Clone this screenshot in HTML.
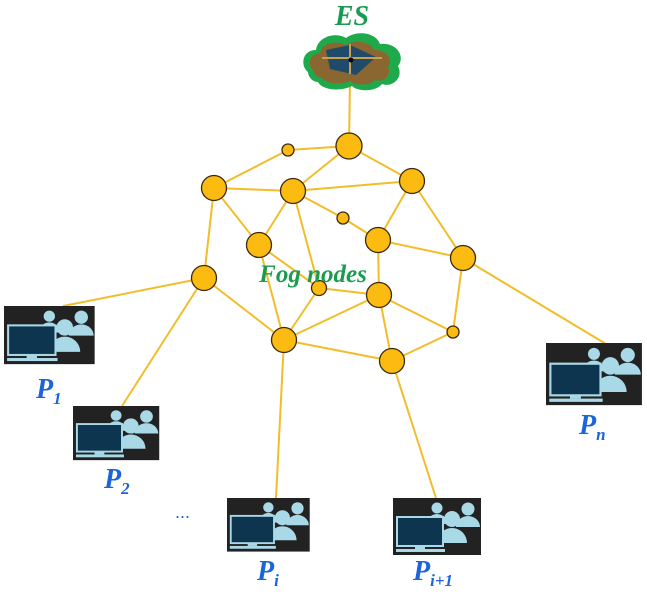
<!DOCTYPE html>
<html><head><meta charset="utf-8"><style>
html,body{margin:0;padding:0;background:#fff;width:647px;height:598px;overflow:hidden}
svg{display:block}
.lbl{font-family:"Liberation Serif",serif;font-weight:bold;font-style:italic;fill:#1b64dc}
</style></head><body>
<svg width="647" height="598" viewBox="0 0 647 598" xmlns="http://www.w3.org/2000/svg">
<defs>
<g id="pc">
<rect x="0" y="0" width="88" height="57" fill="#222"/>
<circle cx="44" cy="10" r="5.5" fill="#a9d8e6"/>
<path d="M34 26 a10 10 0 0 1 20 0 z" fill="#a9d8e6"/>
<circle cx="75" cy="11" r="6.5" fill="#a9d8e6"/>
<path d="M63 29 a12 11 0 0 1 24 0 z" fill="#a9d8e6"/>
<circle cx="59" cy="21" r="8" fill="#a9d8e6"/>
<path d="M44 45 a15 15 0 0 1 30 0 z" fill="#a9d8e6"/>
<rect x="4" y="19" width="46" height="29" fill="#0e3550" stroke="#a9d8e6" stroke-width="2"/>
<rect x="22" y="48" width="10" height="3" fill="#a9d8e6"/>
<rect x="3" y="51" width="49" height="3" fill="#a9d8e6"/>
</g>
</defs>
<g stroke="#f2bd2a" stroke-width="2" fill="none">
<line x1="350" y1="80" x2="349" y2="146"/>
<line x1="349" y1="146" x2="288" y2="150"/>
<line x1="288" y1="150" x2="214" y2="188"/>
<line x1="349" y1="146" x2="293" y2="191"/>
<line x1="349" y1="146" x2="412" y2="181"/>
<line x1="214" y1="188" x2="293" y2="191"/>
<line x1="293" y1="191" x2="412" y2="181"/>
<line x1="214" y1="188" x2="259" y2="245"/>
<line x1="214" y1="188" x2="204" y2="278"/>
<line x1="293" y1="191" x2="259" y2="245"/>
<line x1="293" y1="191" x2="319" y2="288"/>
<line x1="293" y1="191" x2="343" y2="218"/>
<line x1="343" y1="218" x2="378" y2="240"/>
<line x1="412" y1="181" x2="378" y2="240"/>
<line x1="412" y1="181" x2="463" y2="258"/>
<line x1="378" y1="240" x2="463" y2="258"/>
<line x1="378" y1="240" x2="379" y2="295"/>
<line x1="259" y1="245" x2="319" y2="288"/>
<line x1="319" y1="288" x2="379" y2="295"/>
<line x1="319" y1="288" x2="284" y2="340"/>
<line x1="204" y1="278" x2="284" y2="340"/>
<line x1="259" y1="245" x2="284" y2="340"/>
<line x1="379" y1="295" x2="284" y2="340"/>
<line x1="379" y1="295" x2="453" y2="332"/>
<line x1="463" y1="258" x2="453" y2="332"/>
<line x1="379" y1="295" x2="392" y2="361"/>
<line x1="284" y1="340" x2="392" y2="361"/>
<line x1="392" y1="361" x2="453" y2="332"/>
<line x1="463" y1="258" x2="606" y2="344"/>
<line x1="204" y1="278" x2="63" y2="306"/>
<line x1="204" y1="278" x2="122" y2="406"/>
<line x1="284" y1="340" x2="276" y2="498"/>
<line x1="392" y1="361" x2="436" y2="498"/>
</g>
<g fill="#fbbb10" stroke="#3a2a10" stroke-width="1.3">
<circle cx="349" cy="146" r="13"/>
<circle cx="288" cy="150" r="6"/>
<circle cx="214" cy="188" r="12.5"/>
<circle cx="293" cy="191" r="12.5"/>
<circle cx="412" cy="181" r="12.5"/>
<circle cx="343" cy="218" r="6"/>
<circle cx="259" cy="245" r="12.5"/>
<circle cx="378" cy="240" r="12.5"/>
<circle cx="463" cy="258" r="12.5"/>
<circle cx="204" cy="278" r="12.5"/>
<circle cx="319" cy="288" r="7.5"/>
<circle cx="379" cy="295" r="12.5"/>
<circle cx="284" cy="340" r="12.5"/>
<circle cx="453" cy="332" r="6"/>
<circle cx="392" cy="361" r="12.5"/>
</g>
<g>
<path d="M308 72 c-8 -6 -6 -22 8 -22 c2 -14 20 -18 30 -12 c10 -8 30 -6 34 6 c16 -2 26 12 18 22 c6 12 -6 22 -16 18 c-6 8 -24 8 -30 2 c-12 6 -30 4 -34 -4 c-6 0 -10 -6 -10 -10 z" fill="#1eaa4a"/>
<path d="M313 70 c-6 -5 -4 -16 7 -17 c2 -10 15 -13 26 -8 c9 -6 24 -4 28 5 c12 -1 20 9 14 17 c4 8 -4 16 -13 13 c-5 6 -20 6 -25 1 c-9 4 -24 3 -28 -3 c-5 0 -8 -4 -9 -8 z" fill="#8a6630"/>
<path d="M326 50 l24 -5 l26 12 l-20 18 l-26 -6 z" fill="#1f4a6a"/>
<path d="M322 58 l60 0 M350 44 l0 30" stroke="#c9a050" stroke-width="2"/>
<circle cx="351" cy="60" r="2.5" fill="#000"/>
</g>
<text x="352" y="25" text-anchor="middle" font-family="Liberation Serif,serif" font-weight="bold" font-style="italic" font-size="28" fill="#1a9c50">ES</text>
<text x="313" y="282" text-anchor="middle" font-family="Liberation Serif,serif" font-weight="bold" font-style="italic" font-size="25" fill="#1a9c50">Fog nodes</text>
<use href="#pc" transform="translate(4,306) scale(1.03,1.02)"/>
<use href="#pc" transform="translate(73,406) scale(0.98,0.95)"/>
<use href="#pc" transform="translate(227,498) scale(0.94,0.94)"/>
<use href="#pc" transform="translate(393,498) scale(1.0,1.0)"/>
<use href="#pc" transform="translate(546,343) scale(1.09,1.09)"/>
<text class="lbl" x="36" y="398" font-size="28">P<tspan font-size="17" dy="6">1</tspan></text>
<text class="lbl" x="104" y="488" font-size="28">P<tspan font-size="17" dy="6">2</tspan></text>
<text x="175" y="518" font-family="Liberation Sans,sans-serif" font-size="18" fill="#1b64dc">...</text>
<text class="lbl" x="257" y="580" font-size="28">P<tspan font-size="17" dy="6">i</tspan></text>
<text class="lbl" x="413" y="580" font-size="28">P<tspan font-size="17" dy="6">i+1</tspan></text>
<text class="lbl" x="579" y="434" font-size="28">P<tspan font-size="17" dy="6">n</tspan></text>
</svg>
</body></html>
